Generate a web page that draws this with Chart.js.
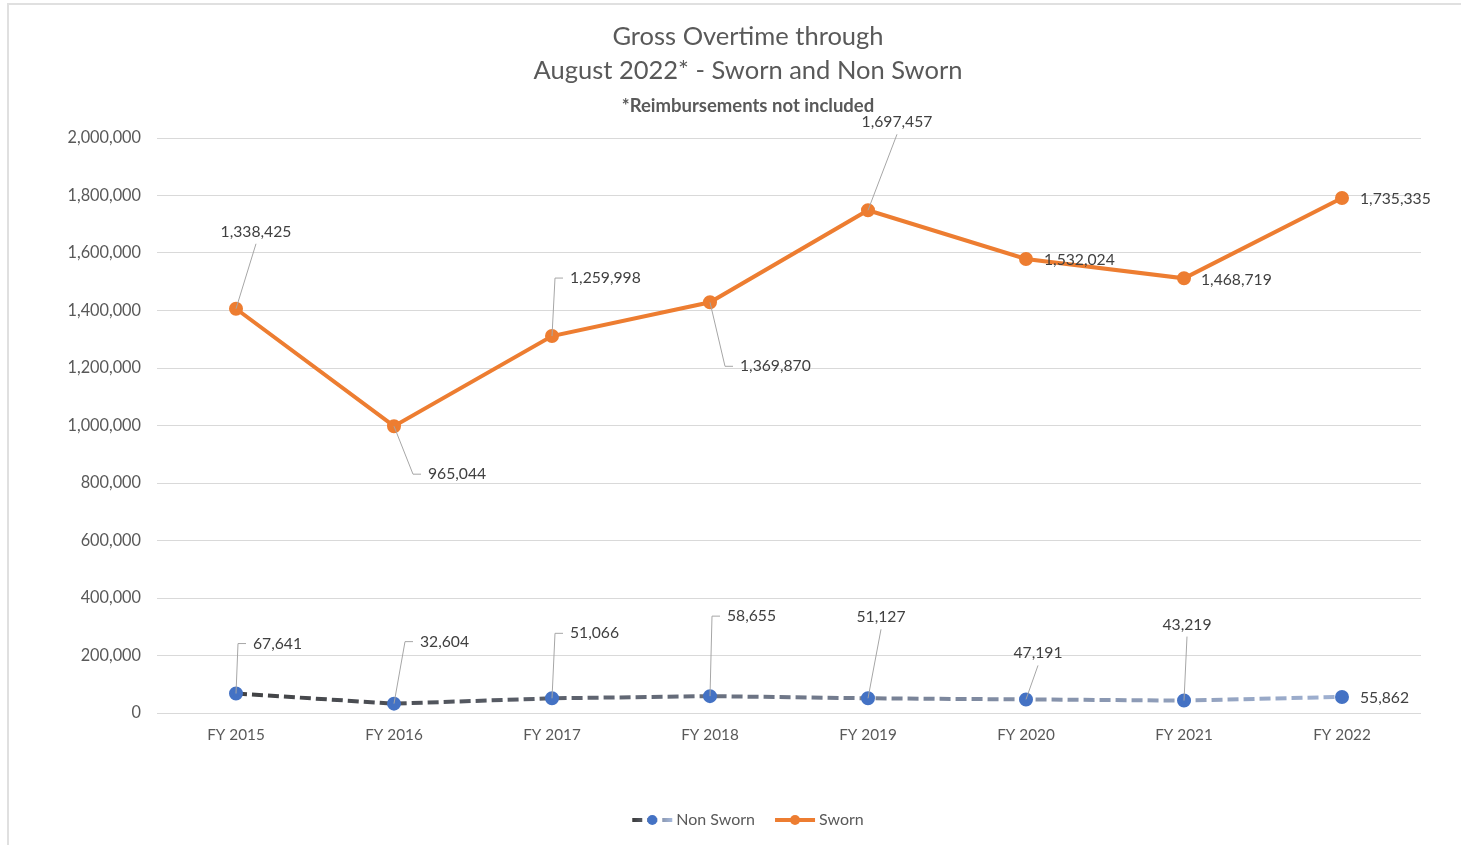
<!DOCTYPE html>
<html>
<head>
<meta charset="utf-8">
<script src="https://cdn.jsdelivr.net/npm/chart.js@4"></script>
<style>
  html, body { margin: 0; padding: 0; background: #fff; overflow: hidden; }
  #wrap { position: relative; width: 1461px; height: 845px; }
  #frame { position: absolute; left: 7px; top: 3px; right: -10px; bottom: -10px;
           border-left: 2px solid #e0e0e0; border-top: 2px solid #e0e0e0; pointer-events: none; }
</style>
</head>
<body>
<div id="wrap">
  <canvas id="otChart"></canvas>
  <div id="frame"></div>
</div>
<script>
// data
const categories = ["FY 2015", "FY 2016", "FY 2017", "FY 2018", "FY 2019", "FY 2020", "FY 2021", "FY 2022"];
const nonSworn = [67641, 32604, 51066, 58655, 51127, 47191, 43219, 55862];
const sworn = [1338425, 965044, 1259998, 1369870, 1697457, 1532024, 1468719, 1735335];
const yMin = 0, yMax = 2000000, yStep = 200000;

const titleLines = ["Gross Overtime through", "August 2022* - Sworn and Non Sworn"];
const subTitle = "*Reimbursements not included";

Chart.defaults.font.family = "Lato";
Chart.defaults.color = "#595959";

const fmt = (v) => v.toLocaleString("en-US");

function nonSwornGradient(ctx, x0, x1) {
    const g = ctx.createLinearGradient(x0, 0, x1, 0);
    g.addColorStop(0, "#3a3a3a");
    g.addColorStop(0.5, "#6f7788");
    g.addColorStop(1, "#a6b9dc");
    return g;
}

// titles drawn on top of the chart
const titlePlugin = {
    id: "titles",
    afterDraw(chart) {
        const ctx = chart.ctx;
        const cx = (75 + chart.width - 40) / 2;
        ctx.save();
        ctx.textAlign = "center";
        ctx.textBaseline = "middle";
        ctx.fillStyle = "#595959";
        ctx.font = "25.5px Lato";
        ctx.fillText(titleLines[0], cx, 37);
        ctx.fillText(titleLines[1], cx, 71);
        ctx.font = "bold 18.5px Lato";
        ctx.fillText(subTitle, cx, 106);
        ctx.restore();
    },
};

// data labels with leader lines
const labelPlugin = {
    id: "leaderLabels",
    afterDatasetsDraw(chart, args, opts) {
        const ctx = chart.ctx;
        ctx.save();
        ctx.font = "15.7px Lato";
        ctx.textBaseline = "middle";
        chart.data.datasets.forEach((ds, i) => {
            const meta = chart.getDatasetMeta(i);
            const place = opts.placement[i];
            meta.data.forEach((pt, j) => {
                const [dx, dy, mode] = place[j];
                const text = fmt(ds.data[j]);
                const w = ctx.measureText(text).width;
                let lx = pt.x + dx;
                const ly = pt.y + dy;
                ctx.strokeStyle = "#a6a6a6";
                ctx.lineWidth = 1;
                if (mode === "elbow") {
                    ctx.beginPath();
                    ctx.moveTo(pt.x, pt.y);
                    ctx.lineTo(lx - 15, ly);
                    ctx.lineTo(lx - 7, ly);
                    ctx.stroke();
                } else if (mode === "below") {
                    ctx.beginPath();
                    ctx.moveTo(pt.x, pt.y);
                    ctx.lineTo(lx, ly + 12);
                    ctx.stroke();
                    lx = lx - w / 2;
                }
                ctx.fillStyle = "#404040";
                ctx.textAlign = "left";
                ctx.fillText(text, lx, ly);
            });
        });
        ctx.restore();
    },
};

// legend with line + marker samples
const legendPlugin = {
    id: "lineLegend",
    afterDraw(chart) {
        const ctx = chart.ctx;
        const y = chart.height - 25;
        const cx = (75 + chart.width - 40) / 2;
        ctx.save();
        ctx.font = "16px Lato";
        ctx.textBaseline = "middle";
        const items = chart.data.datasets.map((ds) => ({ ds, w: 40 + 4 + ctx.measureText(ds.label).width }));
        const total = items.reduce((s, it) => s + it.w, 0) + 20 * (items.length - 1);
        let x = cx - total / 2;
        items.forEach(({ ds, w }) => {
            ctx.lineWidth = 4;
            if (ds.label === "Non Sworn") {
                ctx.strokeStyle = nonSwornGradient(ctx, x, x + 40);
                ctx.setLineDash([10, 5]);
            } else {
                ctx.strokeStyle = ds.borderColor;
                ctx.setLineDash([]);
            }
            ctx.beginPath();
            ctx.moveTo(x, y);
            ctx.lineTo(x + 40, y);
            ctx.stroke();
            ctx.setLineDash([]);
            ctx.fillStyle = ds.pointBackgroundColor;
            ctx.beginPath();
            ctx.arc(x + 20, y, 5, 0, Math.PI * 2);
            ctx.fill();
            ctx.fillStyle = "#595959";
            ctx.textAlign = "left";
            ctx.fillText(ds.label, x + 44, y);
            x += w + 20;
        });
        ctx.restore();
    },
};

const ctxL = document.getElementById("otChart").getContext("2d");
const otChart = new Chart(ctxL, {
    type: "line",
    data: {
        labels: categories,
        datasets: [
            {
                label: "Non Sworn",
                data: nonSworn,
                borderColor: (c) => {
                    const area = c.chart.chartArea;
                    if (!area) return "#595959";
                    return nonSwornGradient(c.chart.ctx, area.left, area.right);
                },
                borderDash: [11, 5],
                borderWidth: 4,
                pointRadius: 5,
                pointHoverRadius: 5,
                pointBackgroundColor: "#4472C4",
                pointBorderColor: "#4472C4",
                fill: false,
                tension: 0,
            },
            {
                label: "Sworn",
                data: sworn,
                borderColor: "#ED7D31",
                borderWidth: 4,
                pointRadius: 5,
                pointHoverRadius: 5,
                pointBackgroundColor: "#ED7D31",
                pointBorderColor: "#ED7D31",
                fill: false,
                tension: 0,
            },
        ],
    },
    options: {
        responsive: true,
        maintainAspectRatio: false,
        animation: false,
        layout: { padding: { top: 138, left: 45, right: 40, bottom: 0 } },
        plugins: {
            legend: { display: false },
            tooltip: { enabled: false },
            leaderLabels: {
                placement: [
                    [[17, -50, "elbow"], [26, -62, "elbow"], [18, -65, "elbow"], [17, -80, "elbow"],
                     [13, -81, "below"], [12, -46, "below"], [3, -76, "below"], [18, 1, "none"]],
                    [[20, -77, "below"], [34, 48, "elbow"], [18, -58, "elbow"], [30, 64, "elbow"],
                     [29, -88, "below"], [18, 1, "none"], [17, 2, "none"], [18, 1, "none"]],
                ],
            },
        },
        scales: {
            x: {
                offset: true,
                grid: { display: false, drawTicks: false },
                border: { display: false },
                ticks: { padding: 13, font: { size: 15.3 }, color: "#595959" },
                afterFit: (s) => { s.height = 845 - 713; },
            },
            y: {
                stacked: true,
                min: yMin,
                max: yMax,
                grid: { color: "#d9d9d9", lineWidth: 1, drawTicks: false },
                border: { display: false },
                ticks: {
                    stepSize: yStep,
                    padding: 16,
                    font: { size: 16.3 },
                    color: "#595959",
                    callback: (v) => fmt(v),
                },
                afterFit: (s) => { s.width = 112; },
            },
        },
    },
    plugins: [titlePlugin, labelPlugin, legendPlugin],
});
</script>
</body>
</html>
